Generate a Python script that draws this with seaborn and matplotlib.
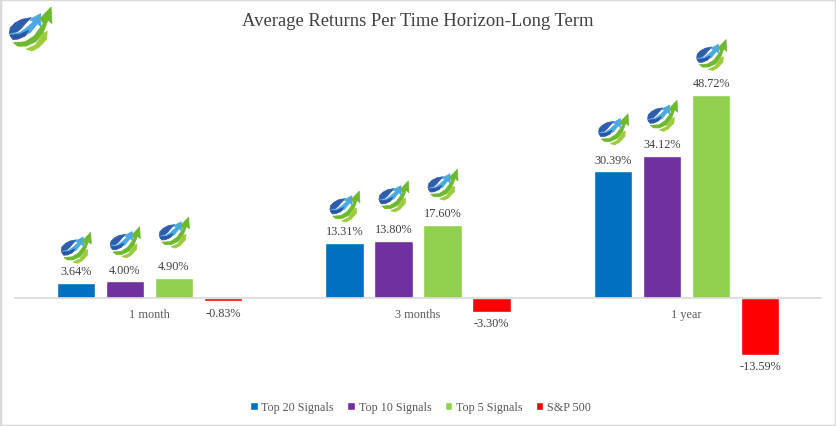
import pandas as pd
import matplotlib
matplotlib.use("Agg")
import matplotlib.pyplot as plt
from matplotlib.patches import Polygon, Rectangle
from matplotlib.transforms import IdentityTransform
import seaborn as sns

horizons = ["1 month", "3 months", "1 year"]
series_names = ["Top 20 Signals", "Top 10 Signals", "Top 5 Signals", "S&P 500"]
top20 = [3.64, 13.31, 30.39]
top10 = [4.00, 13.80, 34.12]
top5 = [4.90, 17.60, 48.72]
sp500 = [-0.83, -3.30, -13.59]
colors = ["#0070C0", "#7030A0", "#92D050", "#FF0000"]

W, H = 836, 427
TEXT = "#595959"

# logo shapes traced by eye, unit box, y up
logo_shapes = [
    ("#2F5DAA", [(.03, .39), (.05, .53), (.16, .64), (.31, .72), (.53, .76), (.41, .64), (.31, .52), (.22, .44)]),
    ("#4AA8E2", [(.04, .38), (.27, .42), (.41, .52), (.58, .67), (.48, .71), (.74, .85), (.75, .55),
                 (.67, .62), (.51, .42), (.31, .33), (.09, .30)]),
    ("#2B55A5", [(.04, .36), (.27, .38), (.47, .47), (.39, .34), (.23, .27), (.11, .26)]),
    ("#6CB82E", [(.12, .19), (.39, .21), (.59, .34), (.80, .62), (.73, .74), (.98, 1.0), (1.0, .62),
                 (.91, .70), (.80, .42), (.63, .21), (.41, .11), (.22, .11)]),
    ("#9CCB3C", [(.41, .04), (.63, .14), (.77, .38), (.89, .45), (.88, .27), (.70, .08), (.55, 0)]),
]
# small logos: offset above the top centre of each bar, px
logo_lifts = [
    [35, 39, 45],
    [36, 44, 40],
    [42, 40, 40],
]


def draw_logo(fig, cx, cy, size):
    # cx, cy in image pixels from top left
    for color, pts in logo_shapes:
        verts = [(cx + (u - .5) * size, H - (cy + (.5 - v) * size)) for u, v in pts]
        fig.add_artist(Polygon(verts, closed=True, facecolor=color, edgecolor=color, linewidth=0.5,
                               transform=IdentityTransform(), zorder=5))


df = pd.DataFrame({"Horizon": horizons * 4,
                   "Series": [s for s in series_names for _ in horizons],
                   "Return": top20 + top10 + top5 + sp500})

sns.set_theme(style="white")
plt.rcParams["font.family"] = ["Liberation Serif", "DejaVu Serif"]

fig = plt.figure(figsize=(W / 100, H / 100), dpi=100)
ax = fig.add_axes([15 / W, 1 - 381 / H, 806 / W, 320 / H])
sns.barplot(data=df, x="Horizon", y="Return", hue="Series", order=horizons,
            hue_order=series_names, palette=colors, width=0.73, gap=0.214,
            saturation=1, legend=True, ax=ax)
ax.set_xlim(-0.5, 2.5)
ax.set_ylim(-19.68, 57.12)
ax.set_xlabel("")
ax.set_ylabel("")
ax.set_yticks([])
for side in ["top", "left", "right"]:
    ax.spines[side].set_visible(False)
ax.spines["bottom"].set_position(("data", 0))
ax.spines["bottom"].set_color("#D9D9D9")
ax.spines["bottom"].set_linewidth(1.2)
ax.tick_params(axis="x", length=0, pad=7, labelsize=8.8, labelcolor=TEXT)
ax.set_facecolor("none")

for cont in ax.containers:
    ax.bar_label(cont, fmt="%.2f%%", padding=4, fontsize=8.8, color="#404040")

ax.legend(loc="center", bbox_to_anchor=(420.5 / W, 1 - 408 / H), bbox_transform=fig.transFigure,
          ncol=4, frameon=False, fontsize=8.75, labelcolor=TEXT, handlelength=0.62,
          handleheight=0.62, handletextpad=0.3, columnspacing=1.1, borderpad=0)

fig.text(418 / W, 1 - 22 / H, "Average Returns Per Time Horizon-Long Term",
         ha="center", va="center", fontsize=13.4, color="#404040")

fig.add_artist(Rectangle((0, 0), 1, 1, transform=fig.transFigure, fill=False,
                         edgecolor="#D9D9D9", linewidth=2.5))

# logos sit above the three positive series
fig.canvas.draw()
draw_logo(fig, 30, 30, 44)
for cont, lifts in zip(ax.containers[:3], zip(*logo_lifts)):
    for bar, up in zip(cont.patches, lifts):
        x, y = ax.transData.transform((bar.get_x() + bar.get_width() / 2, bar.get_height()))
        draw_logo(fig, x, H - y - up, 31)

fig.savefig("out.png", dpi=100)
